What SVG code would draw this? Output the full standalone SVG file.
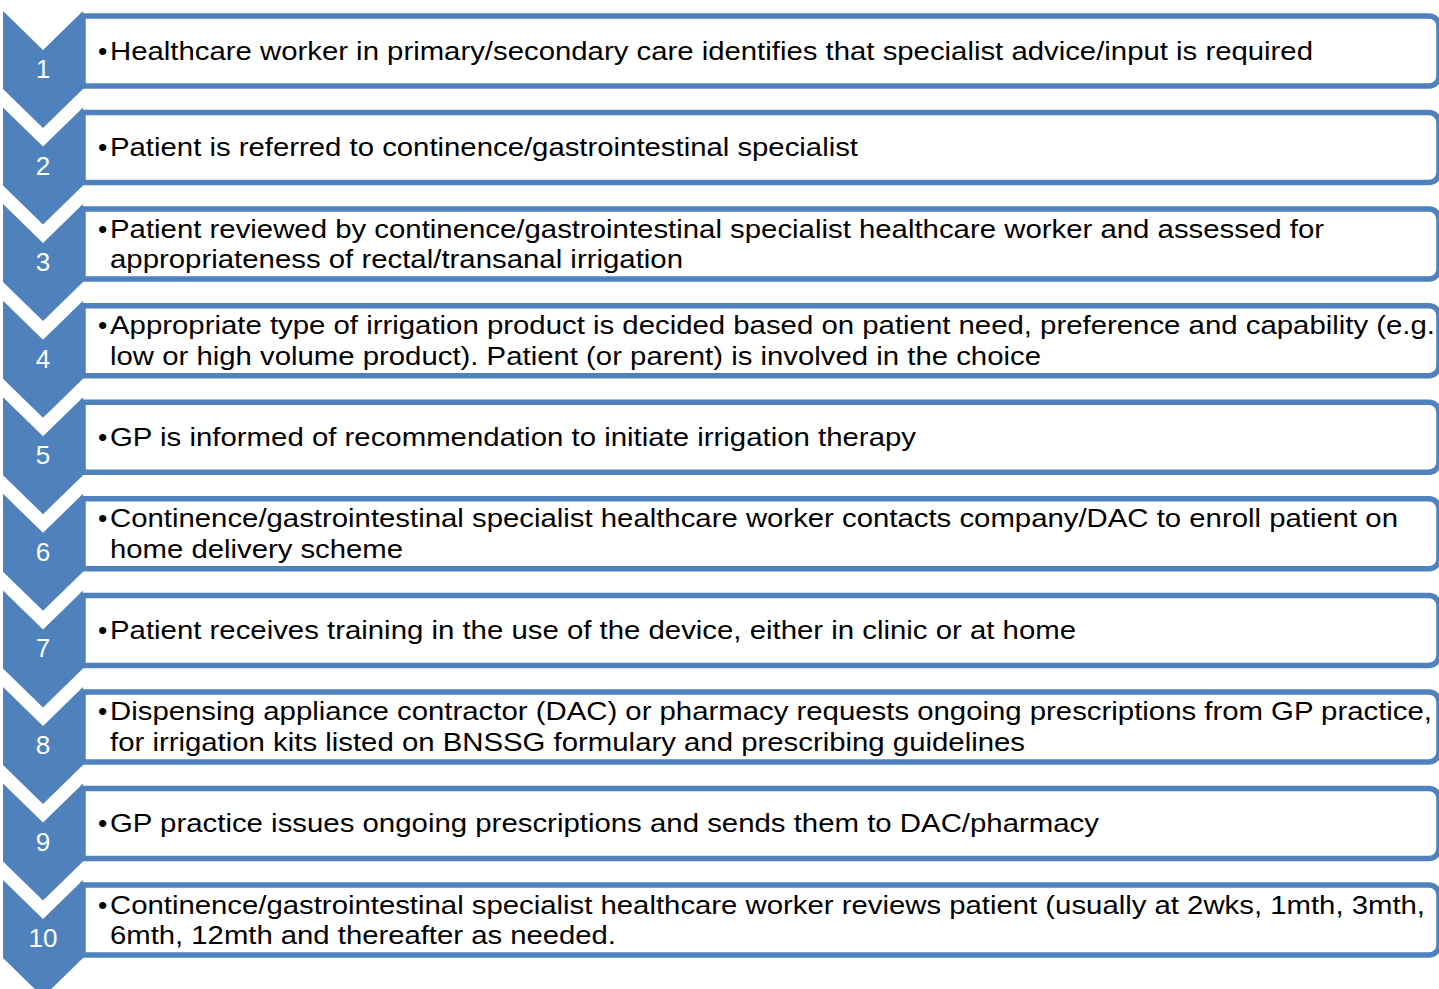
<svg xmlns="http://www.w3.org/2000/svg" width="1439" height="989" viewBox="0 0 1439 989">
<style>
.box{fill:#fff;stroke:#4F81BD;stroke-width:5.5}
.chev{fill:#4F81BD}
.num{font-family:"Liberation Sans",Arial,sans-serif;font-size:26px;fill:#fff;text-anchor:middle}
.t{font-family:"Liberation Sans",Arial,sans-serif;font-size:26.5px;fill:#000}
</style>
<rect width="1439" height="989" fill="#fff"/>
<defs>
<path id="bx" class="box" d="M83,5 H1429 A10,10 0 0 1 1439,15 V65 A10,10 0 0 1 1429,75 H83 Z"/>
<path id="ch" class="chev" d="M3,0 L43,39 L83,0 L83,78 L43,117 L3,78 Z"/>
</defs>
<g id="connectors"></g>

<g id="step1" transform="translate(0,11)">
<use href="#bx"/><use href="#ch"/>
<text class="num" x="43" y="67">1</text>
<text class="t" x="98" y="48.5">•</text>
<text class="t" x="110" y="48.5" textLength="1203" lengthAdjust="spacingAndGlyphs">Healthcare worker in primary/secondary care identifies that specialist advice/input is required</text>
</g>

<g id="step2" transform="translate(0,107.6)">
<use href="#bx"/><use href="#ch"/>
<text class="num" x="43" y="67">2</text>
<text class="t" x="98" y="48.5">•</text>
<text class="t" x="110" y="48.5" textLength="748" lengthAdjust="spacingAndGlyphs">Patient is referred to continence/gastrointestinal specialist</text>
</g>

<g id="step3" transform="translate(0,204.1)">
<use href="#bx"/><use href="#ch"/>
<text class="num" x="43" y="67">3</text>
<text class="t" x="98" y="33.5">•</text>
<text class="t" x="110" y="33.5" textLength="1214" lengthAdjust="spacingAndGlyphs">Patient reviewed by continence/gastrointestinal specialist healthcare worker and assessed for</text>
<text class="t" x="110" y="64" textLength="573" lengthAdjust="spacingAndGlyphs">appropriateness of rectal/transanal irrigation</text>
</g>

<g id="step4" transform="translate(0,300.7)">
<use href="#bx"/><use href="#ch"/>
<text class="num" x="43" y="67">4</text>
<text class="t" x="98" y="33.5">•</text>
<text class="t" x="110" y="33.5" textLength="1325" lengthAdjust="spacingAndGlyphs">Appropriate type of irrigation product is decided based on patient need, preference and capability (e.g.</text>
<text class="t" x="110" y="64" textLength="931" lengthAdjust="spacingAndGlyphs">low or high volume product). Patient (or parent) is involved in the choice</text>
</g>

<g id="step5" transform="translate(0,397.2)">
<use href="#bx"/><use href="#ch"/>
<text class="num" x="43" y="67">5</text>
<text class="t" x="98" y="48.5">•</text>
<text class="t" x="110" y="48.5" textLength="806" lengthAdjust="spacingAndGlyphs">GP is informed of recommendation to initiate irrigation therapy</text>
</g>

<g id="step6" transform="translate(0,493.8)">
<use href="#bx"/><use href="#ch"/>
<text class="num" x="43" y="67">6</text>
<text class="t" x="98" y="33.5">•</text>
<text class="t" x="110" y="33.5" textLength="1288" lengthAdjust="spacingAndGlyphs">Continence/gastrointestinal specialist healthcare worker contacts company/DAC to enroll patient on</text>
<text class="t" x="110" y="64" textLength="293" lengthAdjust="spacingAndGlyphs">home delivery scheme</text>
</g>

<g id="step7" transform="translate(0,590.4)">
<use href="#bx"/><use href="#ch"/>
<text class="num" x="43" y="67">7</text>
<text class="t" x="98" y="48.5">•</text>
<text class="t" x="110" y="48.5" textLength="966" lengthAdjust="spacingAndGlyphs">Patient receives training in the use of the device, either in clinic or at home</text>
</g>

<g id="step8" transform="translate(0,686.9)">
<use href="#bx"/><use href="#ch"/>
<text class="num" x="43" y="67">8</text>
<text class="t" x="98" y="33.5">•</text>
<text class="t" x="110" y="33.5" textLength="1322" lengthAdjust="spacingAndGlyphs">Dispensing appliance contractor (DAC) or pharmacy requests ongoing prescriptions from GP practice,</text>
<text class="t" x="110" y="64" textLength="915" lengthAdjust="spacingAndGlyphs">for irrigation kits listed on BNSSG formulary and prescribing guidelines</text>
</g>

<g id="step9" transform="translate(0,783.5)">
<use href="#bx"/><use href="#ch"/>
<text class="num" x="43" y="67">9</text>
<text class="t" x="98" y="48.5">•</text>
<text class="t" x="110" y="48.5" textLength="989" lengthAdjust="spacingAndGlyphs">GP practice issues ongoing prescriptions and sends them to DAC/pharmacy</text>
</g>

<g id="step10" transform="translate(0,880)">
<use href="#bx"/><use href="#ch"/>
<text class="num" x="43" y="67">10</text>
<text class="t" x="98" y="33.5">•</text>
<text class="t" x="110" y="33.5" textLength="1315" lengthAdjust="spacingAndGlyphs">Continence/gastrointestinal specialist healthcare worker reviews patient (usually at 2wks, 1mth, 3mth,</text>
<text class="t" x="110" y="64" textLength="506" lengthAdjust="spacingAndGlyphs">6mth, 12mth and thereafter as needed.</text>
</g>
</svg>
